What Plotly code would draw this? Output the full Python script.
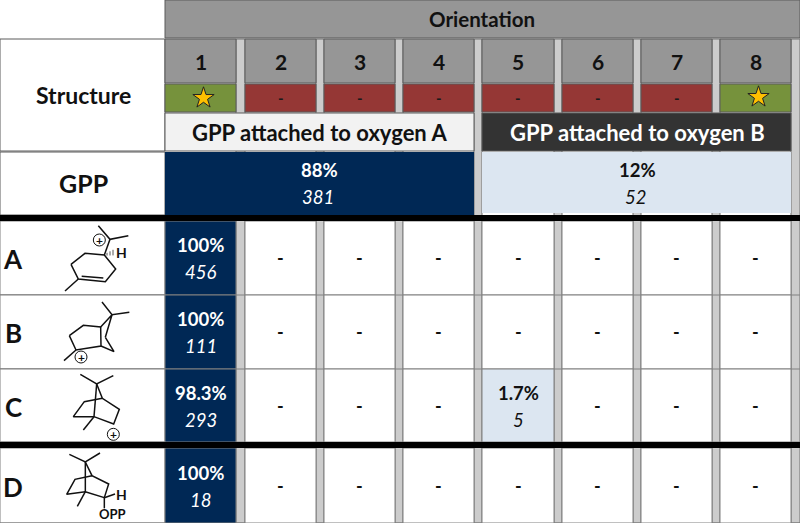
import plotly.graph_objects as go

# ---- data ----
orientations = ["1", "2", "3", "4", "5", "6", "7", "8"]
viable = [True, False, False, False, False, False, False, True]
oxygen_labels = ["GPP attached to oxygen A", "GPP attached to oxygen B"]
gpp_pct = ["88%", "12%"]
gpp_count = ["381", "52"]
structures = ["A", "B", "C", "D"]
pct_A = ["100%", None, None, None, None, None, None, None]
pct_B = ["100%", None, None, None, None, None, None, None]
pct_C = ["98.3%", None, None, None, "1.7%", None, None, None]
pct_D = ["100%", None, None, None, None, None, None, None]
cnt_A = ["456", None, None, None, None, None, None, None]
cnt_B = ["111", None, None, None, None, None, None, None]
cnt_C = ["293", None, None, None, "5", None, None, None]
cnt_D = ["18", None, None, None, None, None, None, None]

# ---- layout (pixel-like axis units) ----
W, H = 800, 523
col_x = [(165, 236), (245, 316), (324, 395), (403, 474), (482, 554), (562, 633), (641, 712), (720, 791)]
gap_x = [(236, 245), (316, 324), (395, 403), (474, 482), (554, 562), (633, 641), (712, 720), (791, 800)]
row_y = [(221, 295), (295, 369), (369, 442), (448, 523)]

GRAY, GAP, GREEN, RED = "#969696", "#CCCCCC", "#76923C", "#953735"
NAVY, PALE, DARK, LINE = "#002855", "#DCE6F1", "#333333", "#5A5A5A"
FONT = "Lato"

shapes, ann = [], []

def rect(x0, y0, x1, y1, fill, line=None, w=1):
    shapes.append(dict(type="rect", xref="x", yref="y", x0=x0, y0=y0, x1=x1, y1=y1, fillcolor=fill,
                       line=dict(color=line or fill, width=w if line else 0), layer="below"))

def text(x, y, s, size, color="#111111", bold=True, italic=False):
    if bold:
        s = f"<b>{s}</b>"
    if italic:
        s = f"<i>{s}</i>"
    ann.append(dict(x=x, y=y, xref="x", yref="y", text=s, showarrow=False, xanchor="center", yanchor="middle",
                    font=dict(family=FONT, size=size, color=color)))

# backgrounds
rect(165, 0, W, 38, GRAY, LINE)
rect(0, 39, 165, 151, "white", LINE)
rect(0, 152, 165, 215, "white", LINE)
for x0, x1 in gap_x:
    rect(x0, 39, x1, H, GAP, "#707070")
for i, (x0, x1) in enumerate(col_x):
    rect(x0, 39, x1, 83, GRAY, LINE)
    rect(x0, 84, x1, 112, GREEN if viable[i] else RED, LINE)
    text((x0 + x1) / 2, 61, orientations[i], 21)
    if not viable[i]:
        text((x0 + x1) / 2, 98, "-", 15, "#1A1A1A")

rect(165, 113, 474, 151, "#F2F2F2", LINE)
rect(482, 113, 791, 151, DARK, LINE)
rect(165, 152, 474, 215, NAVY)
rect(482, 152, 791, 213, PALE)

text(83, 95, "Structure", 23)
text(83, 183, "GPP", 25)
text(482, 19, "Orientation", 20.5)
text(319, 132, oxygen_labels[0], 22)
text(637, 132, oxygen_labels[1], 22, "#FFFFFF")
text(319, 170, gpp_pct[0], 18.5, "#FFFFFF")
text(318, 197, gpp_count[0], 18.5, "#FFFFFF", bold=False, italic=True)
text(637, 170, gpp_pct[1], 18.5)
text(635, 197, gpp_count[1], 18.5, bold=False, italic=True)

# body rows
all_pct = [pct_A, pct_B, pct_C, pct_D]
all_cnt = [cnt_A, cnt_B, cnt_C, cnt_D]
for r, (y0, y1) in enumerate(row_y):
    rect(0, y0, 165, y1, "white", "#808080")
    text(13, (y0 + y1) / 2 + 1, structures[r], 26)
    ym = (y0 + y1) / 2
    shapes.append(dict(type="line", xref="x", yref="y", x0=0, x1=W, y0=y1, y1=y1,
                       line=dict(color="#808080", width=1), layer="below"))
    for c, (x0, x1) in enumerate(col_x):
        p = all_pct[r][c]
        if p is None:
            rect(x0, y0, x1, y1, "white", "#808080")
            text((x0 + x1) / 2, ym, "-", 18)
        else:
            major = float(p[:-1]) >= 50
            rect(x0, y0, x1, y1, NAVY if major else PALE, "#808080")
            col = "#FFFFFF" if major else "#111111"
            text((x0 + x1) / 2, ym - 13, p, 18.5, col)
            text((x0 + x1) / 2, ym + 14, all_cnt[r][c], 18.5, col, bold=False, italic=True)

# heavy rules
rect(0, 215, W, 221, "#000000")
rect(0, 442, W, 448, "#000000")

# ---- skeletal structures (zoom-crop coordinates) ----
def bonds(paths, oy, width=1.5):
    xs, ys = [], []
    for p in paths:
        for x, y in p:
            xs.append(x / 3)
            ys.append(oy + y / 3)
        xs.append(None)
        ys.append(None)
    return go.Scatter(x=xs, y=ys, mode="lines", line=dict(color="#111111", width=width),
                      hoverinfo="skip", showlegend=False)

def plus(x, y, oy):
    cx, cy = x / 3, oy + y / 3
    shapes.append(dict(type="circle", xref="x", yref="y", x0=cx - 6, x1=cx + 6, y0=cy - 6, y1=cy + 6,
                       line=dict(color="#111111", width=1), fillcolor="white", layer="below"))
    ann.append(dict(x=cx, y=cy, xref="x", yref="y", text="<b>+</b>", showarrow=False,
                    font=dict(family=FONT, size=12, color="#111111")))

mol_A = [[(213, 163), (255, 130), (313, 135), (347, 177), (316, 215), (235, 207), (213, 163)],
         [(245, 199), (310, 204)], [(235, 207), (195, 243)], [(313, 135), (330, 88)],
         [(295, 47), (330, 88), (385, 77)]]
mol_B = [[(208, 377), (250, 346), (302, 351), (303, 408), (228, 420), (208, 377)],
         [(302, 351), (336, 314), (316, 382)], [(303, 408), (342, 425), (316, 382)],
         [(306, 276), (336, 314), (388, 307)], [(228, 420), (192, 452)]]
mol_C = [[(241, 28), (290, 57), (340, 32)], [(290, 57), (282, 155)],
         [(290, 57), (307, 100), (358, 133), (341, 177), (282, 155), (220, 155), (253, 110), (307, 100)],
         [(282, 155), (250, 195)]]
mol_D = [[(208, 268), (256, 291), (300, 264)], [(256, 291), (256, 380)],
         [(256, 291), (276, 332), (326, 357), (313, 398), (256, 380), (200, 388), (225, 343), (276, 332)],
         [(256, 380), (232, 424)], [(313, 398), (345, 387)], [(313, 398), (313, 430)]]

traces = [bonds(mol_A, 210), bonds(mol_B, 210), bonds(mol_C, 365), bonds(mol_D, 365)]
traces.append(go.Scatter(x=[107, 110, 113], y=[254.2, 253.4, 252.6], mode="markers",
                         marker=dict(symbol="line-ns", size=[2, 3, 4], color="#111111",
                                     line=dict(color="#111111", width=1)), hoverinfo="skip", showlegend=False))
plus(298, 90, 210)
plus(243, 441, 210)
plus(340, 208, 365)
text(121, 252, "H", 14)
text(121, 494, "H", 14)
text(112.5, 514, "OPP", 13)

# stars
star_x = [(col_x[i][0] + col_x[i][1]) / 2 + 3 for i in range(8) if viable[i]]
traces.append(go.Scatter(x=star_x, y=[98, 97], mode="markers",
                         marker=dict(symbol="star", size=16, color="#FFC000", line=dict(color="#222222", width=1)),
                         hoverinfo="skip", showlegend=False))

fig = go.Figure(traces)
fig.update_layout(width=W, height=H, margin=dict(l=0, r=0, t=0, b=0), paper_bgcolor="white", plot_bgcolor="white",
                  shapes=shapes, annotations=ann, showlegend=False,
                  xaxis=dict(range=[0, W], visible=False, fixedrange=True),
                  yaxis=dict(range=[H, 0], visible=False, fixedrange=True))
fig.write_html("out.html", config=dict(displayModeBar=False),
               post_script="document.body.style.margin='0';document.body.style.overflow='hidden';")
